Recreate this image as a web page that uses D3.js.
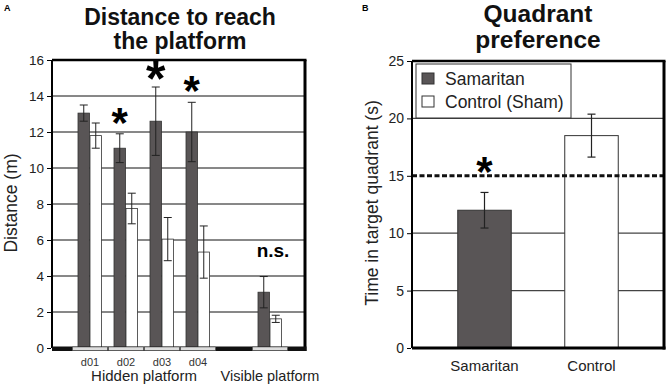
<!DOCTYPE html>
<html>
<head>
  <meta charset="utf-8">
  <title>Water maze</title>
  <style>
    body { margin: 0; background: #fff; }
    svg { display: block; font-family: "Liberation Sans", Arial, sans-serif; }
    .axis path { display: none; }
    .axis line { stroke: #000; }
    .axis text { fill: #222; }
    .title { font-weight: bold; text-anchor: middle; fill: #111; }
  </style>
  <script src="https://d3js.org/d3.v7.min.js"></script>
</head>
<body>
  <div id="chart"></div>
  <script>
    // panel A: distance to reach the platform (m)
    const days = ["d01", "d02", "d03", "d04"];
    const samDist = [13.05, 11.1, 12.6, 12.0];
    const samDistErr = [0.45, 0.8, 1.9, 1.65];
    const conDist = [11.8, 7.75, 6.05, 5.33];
    const conDistErr = [0.7, 0.85, 1.2, 1.45];
    const visSam = 3.1, visSamErr = 0.87;
    const visCon = 1.62, visConErr = 0.2;
    const sigDays = ["d02", "d03", "d04"];
    const ticksA = [0, 2, 4, 6, 8, 10, 12, 14, 16];

    // panel B: time in target quadrant (s)
    const groups = ["Samaritan", "Control"];
    const quadTime = [12.0, 18.5];
    const quadErr = [1.55, 1.87];
    const chance = 15;
    const ticksB = [0, 5, 10, 15, 20, 25];

    const DARK = "#595556";
    const svg = d3.select("#chart").append("svg")
      .attr("width", 669).attr("height", 387);

    // asterisk drawn as text, centred on (x, cy)
    function star(g, x, cy, size) {
      g.append("text")
        .attr("x", x).attr("y", cy + 0.45 * size)
        .attr("text-anchor", "middle")
        .attr("font-size", size).attr("font-weight", "bold")
        .text("*");
    }

    // ---------- panel A ----------
    const gA = svg.append("g");
    const yA = d3.scaleLinear().domain([0, 16]).range([348, 60]);
    const cats = days.concat(["gap", "vis"]);
    const xA = d3.scaleBand().domain(cats).range([72, 288]);
    const xSub = d3.scaleBand().domain(["sam", "con"]).range([6, 30]);
    const leftA = 52, rightA = 305;

    gA.append("text").attr("x", 4).attr("y", 11)
      .attr("font-size", 9).attr("font-weight", "bold").text("A");
    gA.append("text").attr("class", "title").attr("x", 180).attr("y", 25)
      .attr("font-size", 23).text("Distance to reach");
    gA.append("text").attr("class", "title").attr("x", 180).attr("y", 49)
      .attr("font-size", 23).text("the platform");

    // grid
    gA.selectAll(".grid").data(ticksA.filter(d => d > 0 && d < 16)).enter()
      .append("line")
      .attr("x1", leftA).attr("x2", rightA)
      .attr("y1", d => yA(d)).attr("y2", d => yA(d))
      .attr("stroke", "#111").attr("stroke-width", 1);

    const barsA = [];
    days.forEach((d, i) => {
      barsA.push({ cat: d, grp: "sam", v: samDist[i], e: samDistErr[i] });
      barsA.push({ cat: d, grp: "con", v: conDist[i], e: conDistErr[i] });
    });
    barsA.push({ cat: "vis", grp: "sam", v: visSam, e: visSamErr });
    barsA.push({ cat: "vis", grp: "con", v: visCon, e: visConErr });

    const bx = d => xA(d.cat) + xSub(d.grp);
    const bw = xSub.bandwidth() - 0.5;

    gA.selectAll(".bar").data(barsA).enter().append("rect")
      .attr("x", bx)
      .attr("y", d => yA(d.v))
      .attr("width", bw)
      .attr("height", d => yA(0) - yA(d.v))
      .attr("fill", d => d.grp === "sam" ? DARK : "#fff")
      .attr("stroke", "#333").attr("stroke-width", 0.8);

    const err = gA.selectAll(".err").data(barsA).enter().append("g")
      .attr("stroke", "#222").attr("stroke-width", 1);
    err.append("line")
      .attr("x1", d => bx(d) + bw / 2).attr("x2", d => bx(d) + bw / 2)
      .attr("y1", d => yA(d.v + d.e)).attr("y2", d => yA(d.v - d.e));
    err.append("line")
      .attr("x1", d => bx(d) + bw / 2 - 4).attr("x2", d => bx(d) + bw / 2 + 4)
      .attr("y1", d => yA(d.v + d.e)).attr("y2", d => yA(d.v + d.e));
    err.append("line")
      .attr("x1", d => bx(d) + bw / 2 - 4).attr("x2", d => bx(d) + bw / 2 + 4)
      .attr("y1", d => yA(d.v - d.e)).attr("y2", d => yA(d.v - d.e));

    // significance stars
    sigDays.forEach(day => {
      const b = barsA.find(d => d.cat === day && d.grp === "sam");
      const big = day === "d03";
      star(gA, bx(b) + bw / 2, yA(b.v + b.e) - (big ? 14 : 16), big ? 50 : 42);
    });
    gA.append("text")
      .attr("x", xA("vis") + xA.bandwidth() / 2 + 3)
      .attr("y", yA(visSam + visSamErr) - 20)
      .attr("text-anchor", "middle")
      .attr("font-size", 19).attr("font-weight", "bold").text("n.s.");

    // frame
    gA.append("line").attr("x1", leftA).attr("x2", rightA + 1.5)
      .attr("y1", yA(16)).attr("y2", yA(16))
      .attr("stroke", "#000").attr("stroke-width", 2.5);
    gA.append("line").attr("x1", rightA).attr("x2", rightA)
      .attr("y1", yA(16)).attr("y2", yA(0) + 3)
      .attr("stroke", "#000").attr("stroke-width", 3);
    gA.append("line").attr("x1", leftA).attr("x2", leftA)
      .attr("y1", yA(16)).attr("y2", yA(0))
      .attr("stroke", "#000").attr("stroke-width", 2);
    gA.append("rect").attr("x", leftA).attr("y", yA(0) - 1.5)
      .attr("width", rightA - leftA + 1.5).attr("height", 4.5).attr("fill", "#111");
    gA.selectAll(".seg").data(cats.filter(c => c !== "gap")).enter().append("rect")
      .attr("x", c => xA(c) + 0.5).attr("y", yA(0) - 1)
      .attr("width", xA.bandwidth() - 1).attr("height", 3.5)
      .attr("fill", "#ddd").attr("stroke", "#444").attr("stroke-width", 0.5);

    gA.append("g").attr("class", "axis")
      .attr("transform", `translate(${leftA - 1},0)`)
      .call(d3.axisLeft(yA).tickValues(ticksA).tickSize(4).tickPadding(3))
      .selectAll("text").attr("font-size", 13.5);

    gA.selectAll(".day").data(days).enter().append("text")
      .attr("x", d => xA(d) + xA.bandwidth() / 2)
      .attr("y", 366).attr("text-anchor", "middle")
      .attr("font-size", 11).attr("fill", "#333").text(d => d);
    gA.append("text").attr("x", (xA("d01") + xA("d04") + xA.bandwidth()) / 2)
      .attr("y", 381).attr("text-anchor", "middle")
      .attr("font-size", 15).attr("fill", "#222").text("Hidden platform");
    gA.append("text").attr("x", xA("vis") + xA.bandwidth() / 2)
      .attr("y", 381).attr("text-anchor", "middle")
      .attr("font-size", 14.5).attr("fill", "#222").text("Visible platform");
    gA.append("text")
      .attr("transform", "translate(17,203) rotate(-90)")
      .attr("text-anchor", "middle").attr("font-size", 17.5).attr("fill", "#222")
      .text("Distance (m)");

    // ---------- panel B ----------
    const gB = svg.append("g");
    const yB = d3.scaleLinear().domain([0, 25]).range([348, 61]);
    const xB = d3.scaleBand().domain(groups).range([431, 645])
      .paddingInner(0.5).paddingOuter(0.25);
    const leftB = 412, rightB = 664;

    gB.append("text").attr("x", 362).attr("y", 11)
      .attr("font-size", 9).attr("font-weight", "bold").text("B");
    gB.append("text").attr("class", "title").attr("x", 538).attr("y", 22)
      .attr("font-size", 24.5).text("Quadrant");
    gB.append("text").attr("class", "title").attr("x", 538).attr("y", 48)
      .attr("font-size", 24.5).text("preference");

    gB.selectAll(".grid").data(ticksB.filter(d => d > 0 && d < 25 && d !== chance)).enter()
      .append("line")
      .attr("x1", leftB).attr("x2", rightB)
      .attr("y1", d => yB(d)).attr("y2", d => yB(d))
      .attr("stroke", "#444").attr("stroke-width", 1.2);

    gB.selectAll(".bar").data(groups).enter().append("rect")
      .attr("x", d => xB(d))
      .attr("y", (d, i) => yB(quadTime[i]))
      .attr("width", xB.bandwidth())
      .attr("height", (d, i) => yB(0) - yB(quadTime[i]))
      .attr("fill", (d, i) => i === 0 ? DARK : "#fff")
      .attr("stroke", "#333").attr("stroke-width", 1);

    const errB = gB.selectAll(".err").data(groups).enter().append("g")
      .attr("stroke", "#222").attr("stroke-width", 1.2);
    const cx = d => xB(d) + xB.bandwidth() / 2;
    errB.append("line")
      .attr("x1", cx).attr("x2", cx)
      .attr("y1", (d, i) => yB(quadTime[i] + quadErr[i]))
      .attr("y2", (d, i) => yB(quadTime[i] - quadErr[i]));
    [1, -1].forEach(s => {
      errB.append("line")
        .attr("x1", d => cx(d) - 4).attr("x2", d => cx(d) + 4)
        .attr("y1", (d, i) => yB(quadTime[i] + s * quadErr[i]))
        .attr("y2", (d, i) => yB(quadTime[i] + s * quadErr[i]));
    });

    gB.append("line").attr("x1", leftB).attr("x2", rightB)
      .attr("y1", yB(chance)).attr("y2", yB(chance))
      .attr("stroke", "#111").attr("stroke-width", 3)
      .attr("stroke-dasharray", "5,2.5");

    star(gB, cx("Samaritan"), yB(chance) - 9, 42);

    // frame
    gB.append("line").attr("x1", leftB).attr("x2", rightB + 1.5)
      .attr("y1", yB(25)).attr("y2", yB(25))
      .attr("stroke", "#000").attr("stroke-width", 2.5);
    gB.append("line").attr("x1", rightB).attr("x2", rightB)
      .attr("y1", yB(25)).attr("y2", yB(0) + 1.5)
      .attr("stroke", "#000").attr("stroke-width", 3);
    gB.append("line").attr("x1", leftB).attr("x2", leftB)
      .attr("y1", yB(25)).attr("y2", yB(0))
      .attr("stroke", "#000").attr("stroke-width", 2);
    gB.append("line").attr("x1", leftB).attr("x2", rightB + 1.5)
      .attr("y1", yB(0)).attr("y2", yB(0))
      .attr("stroke", "#000").attr("stroke-width", 3);

    gB.append("g").attr("class", "axis")
      .attr("transform", `translate(${leftB - 1},0)`)
      .call(d3.axisLeft(yB).tickValues(ticksB).tickSize(4).tickPadding(3))
      .selectAll("text").attr("font-size", 14);

    // legend
    const leg = gB.append("g").attr("transform", "translate(416,64)");
    leg.append("rect").attr("width", 155).attr("height", 54)
      .attr("fill", "#fff").attr("stroke", "#333").attr("stroke-width", 1);
    const legItems = [{ label: "Samaritan", fill: DARK }, { label: "Control (Sham)", fill: "#fff" }];
    legItems.forEach((it, i) => {
      leg.append("rect").attr("x", 6).attr("y", 9 + i * 23).attr("width", 12).attr("height", 11)
        .attr("fill", it.fill).attr("stroke", "#333").attr("stroke-width", 1);
      leg.append("text").attr("x", 29).attr("y", 21 + i * 23)
        .attr("font-size", 17.5).attr("fill", "#222").text(it.label);
    });

    gB.selectAll(".xl").data(groups).enter().append("text")
      .attr("x", cx).attr("y", 371).attr("text-anchor", "middle")
      .attr("font-size", 15).attr("fill", "#222").text(d => d);
    gB.append("text")
      .attr("transform", "translate(378,203) rotate(-90)")
      .attr("text-anchor", "middle").attr("font-size", 17.5).attr("fill", "#222")
      .text("Time in target quadrant (s)");
  </script>
</body>
</html>
